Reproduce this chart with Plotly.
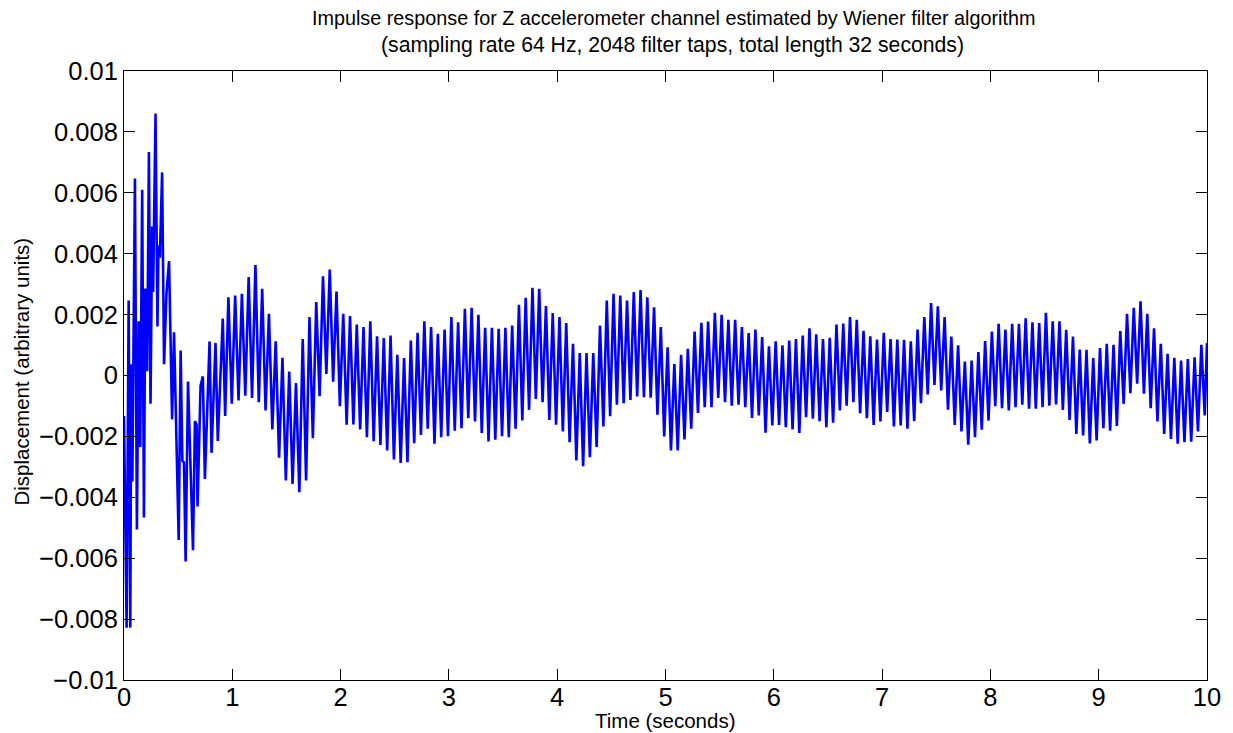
import numpy as np
import plotly.graph_objects as go

# ---------------- data (displacement in units of 1e-3) ----------------
# Early transient: explicit sample times (s) and values
early_t = [0.000, 0.024, 0.043, 0.058, 0.067, 0.077, 0.101, 0.119, 0.135, 0.150,
           0.168, 0.184, 0.196, 0.214, 0.230, 0.245, 0.260, 0.269, 0.291, 0.309,
           0.318, 0.331, 0.352, 0.370, 0.392, 0.416, 0.444, 0.462, 0.505, 0.523,
           0.539, 0.554, 0.569, 0.591, 0.637, 0.655, 0.670, 0.679, 0.707, 0.728,
           0.747, 0.790, 0.808, 0.845, 0.866, 0.912, 0.934]
early_v = [-1.33, -8.28, 2.46, -8.28, 0.37, -3.48, 6.47, -5.06, 1.78, -2.35,
           6.10, -4.66, 2.86, 0.14, 7.34, -0.93, 4.89, 2.74, 8.60, 1.61,
           4.27, 3.87, 6.67, 0.37, 2.69, 3.76, -1.44, 1.42, -5.40, 0.82,
           -2.80, -2.86, -6.11, -0.20, -5.74, -1.50, -1.61, -4.30, -0.34, -0.03,
           -3.40, 1.12, -2.54, 1.07, -2.15, 1.87, -1.33]

# Steady oscillation: successive peaks and troughs (alternating P, T, P, T ...)
osc_start = 0.964   # time of first peak (s)
osc_end = 9.979     # time of last trough (s)
peaks = [
    2.57, 2.63, 2.68, 3.23, 3.63, 2.85, 2.03, 1.12, 0.58, 0.13, -0.25, 1.20, 1.92, 2.41, 3.26, 3.48, 2.76,
    2.03, 1.95, 1.67, 1.59, 1.78, 1.29, 1.23, 1.31, 0.68, 0.57, 1.15, 1.40, 1.78, 1.59, 1.37, 1.51,
    1.92, 1.75, 2.19, 2.22, 1.99, 1.57, 1.57, 1.53, 1.57, 1.64, 2.32, 2.55, 2.88, 2.85, 2.28, 2.05,
    1.92, 1.72, 1.04, 0.74, 0.74, 0.74, 1.64, 2.46, 2.68, 2.63, 2.46, 2.74, 2.81, 2.57, 2.24, 1.59,
    0.93, 0.38, 0.68, 0.88, 1.44, 1.73, 1.77, 2.06, 1.99, 1.83, 1.83, 1.59, 1.39, 1.51, 1.26, 0.96, 1.12,
    0.99, 1.15, 1.20, 1.31, 1.55, 1.35, 1.20, 1.24, 1.67, 1.71, 1.92, 1.83, 1.47, 1.29, 1.18, 1.40,
    1.20, 1.18, 1.17, 1.12, 1.51, 1.92, 2.38, 2.27, 1.92, 1.28, 0.99, 0.46, 0.49, 0.77, 1.13, 1.44,
    1.70, 1.51, 1.70, 1.70, 1.88, 1.75, 1.72, 2.06, 1.78, 1.78, 1.50, 1.28, 0.85, 0.84, 0.57, 0.90,
    1.04, 1.01, 1.46, 2.03, 2.22, 2.44, 2.03, 1.55, 1.04, 0.71, 0.58, 0.49, 0.54, 0.60, 1.01,
]
troughs = [
    -0.93, -0.82, -0.66, -0.74, -0.88, -1.15, -1.77, -2.70, -3.45, -3.56, -3.83, -3.45, -2.06, -0.68, 0.05, -0.20, -1.01,
    -1.62, -1.61, -1.77, -2.03, -2.16, -2.28, -2.46, -2.76, -2.87, -2.85, -2.22, -1.95, -1.75, -2.24, -2.03, -1.99,
    -1.81, -1.73, -1.40, -1.51, -1.89, -2.17, -2.11, -1.99, -2.03, -1.75, -1.48, -1.13, -0.77, -0.88, -1.46, -1.62,
    -1.84, -2.19, -2.79, -2.98, -2.68, -2.35, -1.67, -1.34, -0.96, -0.91, -0.80, -0.69, -0.71, -0.73, -1.29, -2.00,
    -2.46, -2.46, -2.10, -1.75, -1.23, -1.04, -1.04, -0.74, -0.88, -0.99, -0.96, -1.04, -1.39, -1.31, -1.88, -1.64,
    -1.62, -1.70, -1.77, -1.89, -1.37, -1.42, -1.50, -1.70, -1.55, -1.15, -0.99, -0.88, -1.24, -1.40, -1.62, -1.51,
    -1.20, -1.67, -1.64, -1.75, -1.50, -0.91, -0.62, -0.31, -0.49, -1.12, -1.62, -1.84, -2.27, -2.03, -1.78, -1.48,
    -1.01, -1.07, -1.15, -1.04, -0.96, -1.09, -1.09, -1.04, -0.99, -0.95, -1.13, -1.46, -1.92, -1.97, -2.23, -2.13,
    -1.73, -1.81, -1.66, -0.93, -0.58, -0.27, -0.60, -1.07, -1.51, -1.92, -2.08, -2.24, -2.19, -2.17, -1.84, -1.31,
]
end_t = 10.0
end_v = 1.07

x_ticks = [0, 1, 2, 3, 4, 5, 6, 7, 8, 9, 10]
y_ticks = [-0.01, -0.008, -0.006, -0.004, -0.002, 0, 0.002, 0.004, 0.006, 0.008, 0.01]
y_ticktext = ["\u22120.01", "\u22120.008", "\u22120.006", "\u22120.004", "\u22120.002", "0",
              "0.002", "0.004", "0.006", "0.008", "0.01"]

title_1 = "Impulse response for Z accelerometer channel estimated by Wiener filter algorithm"
title_2 = "(sampling rate 64 Hz, 2048 filter taps, total length 32 seconds)"
x_label = "Time (seconds)"
y_label = "Displacement (arbitrary units)"

# ---------------- assemble series ----------------
osc_v = []
for p, t in zip(peaks, troughs):
    osc_v += [p, t]
osc_t = list(np.linspace(osc_start, osc_end, len(osc_v)))

t_all = early_t + osc_t + [end_t]
v_all = np.array(early_v + osc_v + [end_v]) * 1e-3

FONT = "Liberation Sans, Arial, Helvetica, sans-serif"

fig = go.Figure()
fig.add_trace(go.Scatter(x=t_all, y=v_all, mode="lines",
                         line=dict(color="#0000ff", width=2.6),
                         showlegend=False, hoverinfo="skip"))

axis_common = dict(showline=True, linecolor="black", linewidth=1, mirror="ticks",
                   ticks="inside", ticklen=11, tickcolor="black", tickwidth=1,
                   showgrid=False, zeroline=False,
                   tickfont=dict(family=FONT, size=25.5, color="black"))

fig.update_xaxes(range=[0, 10], tickvals=x_ticks, ticktext=[str(v) for v in x_ticks],
                 ticklabelstandoff=-6, **axis_common)
fig.update_yaxes(range=[-0.01, 0.01], tickvals=y_ticks, ticktext=y_ticktext,
                 ticklabelstandoff=0, **axis_common)

PLOT_L, PLOT_T, PLOT_W, PLOT_H = 124, 71, 1089, 609


def px_x(X):
    return (X - PLOT_L) / PLOT_W


def px_y(Y):
    return (PLOT_T + PLOT_H - Y) / PLOT_H


fig.update_layout(
    width=1233, height=733,
    margin=dict(l=PLOT_L, r=1233 - PLOT_L - PLOT_W, t=PLOT_T, b=733 - PLOT_T - PLOT_H),
    paper_bgcolor="white", plot_bgcolor="white",
    font=dict(family=FONT, color="black"),
    hovermode=False,
    annotations=[
        dict(text=title_1, x=px_x(677), y=px_y(18), xref="paper", yref="paper",
             showarrow=False, xanchor="center", yanchor="middle",
             font=dict(family=FONT, size=19.8, color="black")),
        dict(text=title_2, x=px_x(676), y=px_y(45), xref="paper", yref="paper",
             showarrow=False, xanchor="center", yanchor="middle",
             font=dict(family=FONT, size=21.2, color="black")),
        dict(text=x_label, x=px_x(668), y=px_y(720), xref="paper", yref="paper",
             showarrow=False, xanchor="center", yanchor="middle",
             font=dict(family=FONT, size=20.5, color="black")),
        dict(text=y_label, x=px_x(21), y=px_y(372), xref="paper", yref="paper",
             showarrow=False, xanchor="center", yanchor="middle", textangle=-90,
             font=dict(family=FONT, size=20.5, color="black")),
    ],
)

# remove the default page margin and scrollbars so the figure fills the window exactly
fig.write_html("out.html", config={"displayModeBar": False},
               post_script="document.body.style.margin='0px';"
                           "document.body.style.overflow='hidden';"
                           "document.documentElement.style.overflow='hidden';")
